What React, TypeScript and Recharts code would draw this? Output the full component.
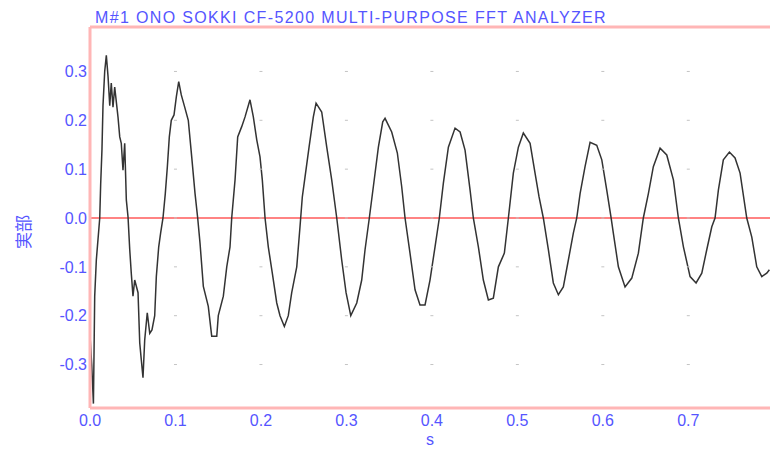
import React from 'react';
import { ComposedChart, Line, Scatter, XAxis, YAxis, ReferenceLine, Label } from 'recharts';

const times = [
  0.0, 0.002, 0.004, 0.0055, 0.0074, 0.0114, 0.0125, 0.014, 0.0152, 0.0172, 0.0191, 0.0211, 0.0231, 0.0249,
  0.0269, 0.0289, 0.0328, 0.0348, 0.0366, 0.0386, 0.0406, 0.0425, 0.0445, 0.0465, 0.0483, 0.0503, 0.0523,
  0.0562, 0.0582, 0.06, 0.062, 0.064, 0.067, 0.0699, 0.0725, 0.0757, 0.0776, 0.0804, 0.0827, 0.0854, 0.0881,
  0.0905, 0.0928, 0.0951, 0.0983, 0.101, 0.1038, 0.1068, 0.1108, 0.115, 0.119, 0.1229, 0.126, 0.1287, 0.1326,
  0.1384, 0.1424, 0.1483, 0.1501, 0.156, 0.16, 0.1638, 0.1658, 0.1697, 0.1728, 0.1775, 0.1814, 0.1872, 0.1911,
  0.1951, 0.1989, 0.2016, 0.2048, 0.2086, 0.2133, 0.2185, 0.2223, 0.2274, 0.232, 0.236, 0.2419, 0.2457, 0.2484,
  0.2516, 0.2563, 0.2613, 0.2645, 0.2711, 0.277, 0.2828, 0.2887, 0.2945, 0.2996, 0.3051, 0.3121, 0.3179, 0.3218,
  0.3268, 0.3315, 0.3374, 0.3425, 0.3452, 0.353, 0.3596, 0.3647, 0.3686, 0.3744, 0.3803, 0.3861, 0.392, 0.3978,
  0.4037, 0.4087, 0.4134, 0.4193, 0.4271, 0.433, 0.4388, 0.4447, 0.4485, 0.4544, 0.4602, 0.4661, 0.4719, 0.4778,
  0.4848, 0.4895, 0.4953, 0.5012, 0.507, 0.5149, 0.5207, 0.5254, 0.5304, 0.5363, 0.5421, 0.548, 0.5538, 0.5597,
  0.5655, 0.5695, 0.5734, 0.5792, 0.5851, 0.5929, 0.5988, 0.6046, 0.6097, 0.6123, 0.6182, 0.626, 0.6339, 0.6416,
  0.6474, 0.6533, 0.6591, 0.667, 0.6748, 0.6826, 0.6884, 0.6943, 0.7021, 0.7091, 0.7158, 0.7216, 0.7275, 0.7313,
  0.7352, 0.741, 0.7481, 0.7547, 0.7606, 0.7684, 0.7743, 0.7801, 0.786, 0.7918, 0.7949,
];
const realPart = [
  -0.24, -0.3, -0.38, -0.16, -0.086, 0.0, 0.07, 0.14, 0.23, 0.3, 0.333, 0.29, 0.23, 0.276,
  0.227, 0.268, 0.206, 0.166, 0.153, 0.098, 0.153, 0.037, 0.002, -0.065, -0.113, -0.16, -0.127,
  -0.153, -0.256, -0.29, -0.327, -0.25, -0.194, -0.236, -0.229, -0.2, -0.12, -0.059, -0.03, 0.0, 0.05,
  0.105, 0.166, 0.2, 0.211, 0.248, 0.279, 0.252, 0.227, 0.2, 0.125, 0.05, 0.0, -0.051, -0.14,
  -0.181, -0.242, -0.242, -0.2, -0.16, -0.1, -0.059, 0.0, 0.078, 0.166, 0.187, 0.207, 0.242, 0.207,
  0.16, 0.125, 0.078, 0.0, -0.059, -0.113, -0.174, -0.2, -0.222, -0.2, -0.153, -0.1, -0.018, 0.043,
  0.084, 0.145, 0.207, 0.235, 0.217, 0.145, 0.078, 0.0, -0.086, -0.153, -0.2, -0.174, -0.127, -0.065,
  0.0, 0.064, 0.145, 0.197, 0.204, 0.176, 0.133, 0.064, 0.0, -0.072, -0.147, -0.178, -0.178, -0.127,
  -0.059, 0.0, 0.071, 0.145, 0.184, 0.176, 0.139, 0.057, 0.0, -0.059, -0.127, -0.168, -0.164, -0.1,
  -0.072, 0.0, 0.092, 0.145, 0.174, 0.153, 0.092, 0.043, 0.0, -0.065, -0.133, -0.157, -0.141, -0.086,
  -0.031, 0.0, 0.05, 0.105, 0.155, 0.149, 0.119, 0.057, 0.0, -0.031, -0.1, -0.141, -0.123, -0.072,
  0.0, 0.05, 0.105, 0.143, 0.129, 0.078, 0.0, -0.059, -0.12, -0.133, -0.113, -0.065, -0.018, 0.0,
  0.057, 0.119, 0.135, 0.123, 0.092, 0.0, -0.039, -0.1, -0.12, -0.113, -0.106,
];

const xTicks = [0, 0.1, 0.2, 0.3, 0.4, 0.5, 0.6, 0.7];
const yTicks = [-0.3, -0.2, -0.1, 0, 0.1, 0.2, 0.3];
const xDomain = [0, 0.7956];
const yDomain = [-0.389, 0.391];

const title = 'M#1 ONO SOKKI CF-5200 MULTI-PURPOSE FFT ANALYZER';

const BLUE = '#5555ff';
const PINK = '#ffb6b6';

const trace = times.map((t, i) => ({ t, v: realPart[i] }));
// little grey marks where the tick lines cross
const gridMarks = xTicks.slice(1).flatMap((t) => yTicks.map((v) => ({ t, v })));

const GridMark = (props: any) => (
  <rect x={props.cx - 1.5} y={props.cy - 0.5} width={3} height={1} fill="#c4c4c4" />
);

const tickStyle = { fill: BLUE, fontSize: 16, fontFamily: 'Liberation Sans, Arial, sans-serif' };

export default function App() {
  return (
    <div style={{ position: 'relative', width: 770, height: 451, background: '#fff' }}>
      <style>{`body{margin:0}`}</style>
      <div
        style={{
          position: 'absolute',
          left: 95,
          top: 10,
          fontSize: 16,
          lineHeight: '16px',
          letterSpacing: 1.35,
          whiteSpace: 'nowrap',
          color: BLUE,
          fontFamily: 'Liberation Sans, Arial, sans-serif',
        }}
      >
        {title}
      </div>
      <ComposedChart width={770} height={451} margin={{ top: 27, right: 0, bottom: 0, left: 0 }}>
        <XAxis
          dataKey="t"
          type="number"
          domain={xDomain}
          ticks={xTicks}
          allowDataOverflow
          tickFormatter={(t: number) => t.toFixed(1)}
          tick={tickStyle}
          tickLine={false}
          tickSize={0}
          tickMargin={7}
          height={43}
          axisLine={{ stroke: PINK, strokeWidth: 3 }}
        >
          <Label value="s" position="insideBottom" offset={6} fill={BLUE} fontSize={16} fontFamily="Liberation Sans, Arial, sans-serif" />
        </XAxis>
        <YAxis
          type="number"
          domain={yDomain}
          ticks={yTicks}
          allowDataOverflow
          tickFormatter={(v: number) => v.toFixed(1)}
          tick={tickStyle}
          tickLine={false}
          tickSize={0}
          tickMargin={3}
          width={90}
          axisLine={{ stroke: PINK, strokeWidth: 3 }}
        >
          <Label
            content={() => (
              <text
                x={22}
                y={232}
                transform="rotate(-90, 22, 232)"
                textAnchor="middle"
                dominantBaseline="central"
                fill={BLUE}
                fontSize={17}
                fontFamily="Noto Sans CJK JP"
              >
                実部
              </text>
            )}
          />
        </YAxis>
        <ReferenceLine y={yDomain[1]} stroke={PINK} strokeWidth={3} />
        <Scatter data={gridMarks} dataKey="v" shape={GridMark} isAnimationActive={false} />
        <ReferenceLine y={0} stroke="#ff5a5a" strokeWidth={1.5} />
        <Line
          data={trace}
          dataKey="v"
          type="linear"
          stroke="#333333"
          strokeWidth={1.5}
          dot={false}
          isAnimationActive={false}
        />
      </ComposedChart>
    </div>
  );
}
